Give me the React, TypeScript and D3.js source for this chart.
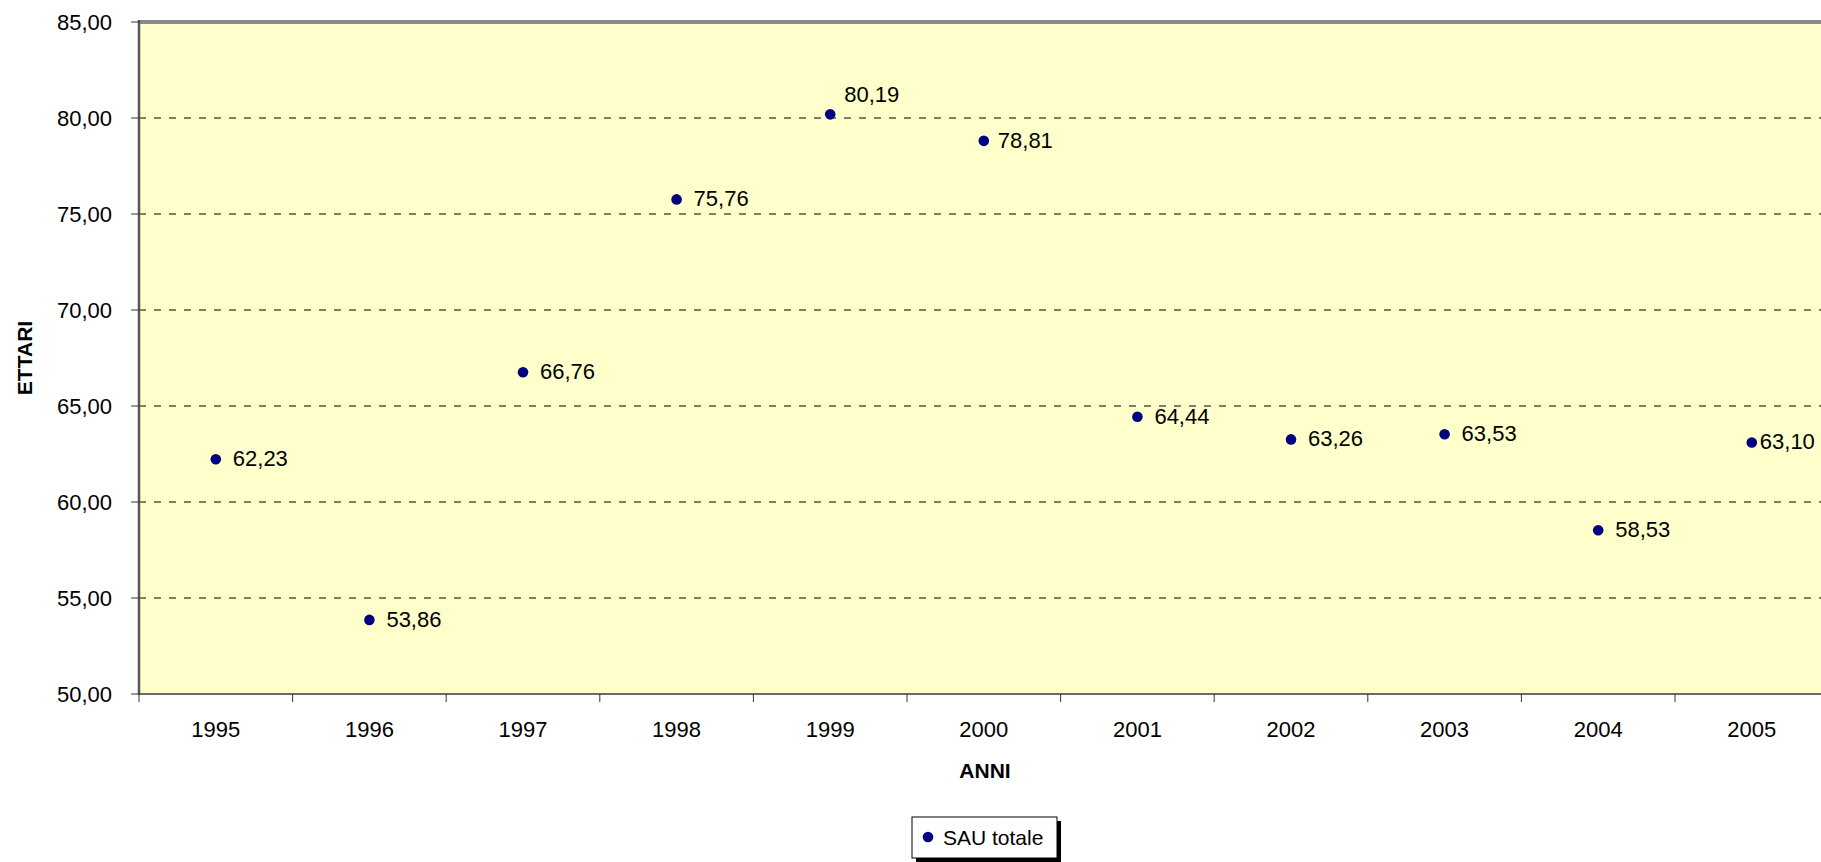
import React from "react";
import * as d3 from "d3";

const years = ["1995", "1996", "1997", "1998", "1999", "2000", "2001", "2002", "2003", "2004", "2005"];
const sauTotale = [62.23, 53.86, 66.76, 75.76, 80.19, 78.81, 64.44, 63.26, 63.53, 58.53, 63.1];
const yTicks = [50, 55, 60, 65, 70, 75, 80, 85];
const seriesName = "SAU totale";
const xTitle = "ANNI";
const yTitle = "ETTARI";

const W = 1821;
const H = 862;
const plotLeft = 139;
const plotTop = 22;
const plotBottom = 694;
const band = 153.6;
const plotRight = plotLeft + band * years.length;

const fmt = (v: number) => v.toFixed(2).replace(".", ",");

const labelAdjust: Record<string, { dx: number; dy: number }> = {
  "1999": { dx: 14, dy: -12 },
  "2000": { dx: 14, dy: 7 },
  "2005": { dx: 8, dy: 7 },
};

export default function App() {
  const x = d3.scaleBand<string>().domain(years).range([plotLeft, plotRight]).padding(0);
  const y = d3.scaleLinear().domain([50, 85]).range([plotBottom, plotTop]);
  const font = "'Liberation Sans', Arial, sans-serif";
  const boundaries = d3.range(years.length + 1).map((i) => plotLeft + i * x.bandwidth());

  return (
    <svg
      width={W}
      height={H}
      style={{ position: "absolute", left: 0, top: 0, display: "block", background: "#fff" }}
      fontFamily={font}
    >
      <rect x={plotLeft} y={plotTop} width={plotRight - plotLeft} height={plotBottom - plotTop} fill="#FFFFCC" />
      {yTicks
        .filter((t) => t !== 50 && t !== 85)
        .map((t) => (
          <line
            key={"g" + t}
            x1={plotLeft}
            x2={plotRight}
            y1={y(t)}
            y2={y(t)}
            stroke="#000"
            strokeWidth={1}
            strokeDasharray="7,8"
          />
        ))}
      <line x1={plotLeft} x2={plotRight} y1={plotTop} y2={plotTop} stroke="#8a8a8a" strokeWidth={4} />
      <line x1={plotLeft} x2={plotRight} y1={plotBottom} y2={plotBottom} stroke="#6b6b6b" strokeWidth={2} />
      <line x1={plotLeft} x2={plotLeft} y1={plotTop - 2} y2={plotBottom + 1} stroke="#555" strokeWidth={2.5} />
      {yTicks.map((t) => (
        <g key={"y" + t}>
          <line x1={plotLeft - 8} x2={plotLeft} y1={y(t)} y2={y(t)} stroke="#333" strokeWidth={1} />
          <text x={112} y={y(t) + 8} textAnchor="end" fontSize={22} fill="#000">
            {fmt(t)}
          </text>
        </g>
      ))}
      {boundaries.map((bx, i) => (
        <line key={"xt" + i} x1={bx} x2={bx} y1={plotBottom} y2={plotBottom + 8} stroke="#333" strokeWidth={1} />
      ))}
      {years.map((yr) => (
        <text
          key={"xl" + yr}
          x={(x(yr) as number) + x.bandwidth() / 2}
          y={737}
          textAnchor="middle"
          fontSize={22}
          fill="#000"
        >
          {yr}
        </text>
      ))}
      {sauTotale.map((v, i) => {
        const cx = (x(years[i]) as number) + x.bandwidth() / 2;
        const cy = y(v);
        const adj = labelAdjust[years[i]] || { dx: 17, dy: 7 };
        return (
          <g key={"p" + i}>
            <circle cx={cx} cy={cy} r={5.3} fill="#000080" />
            <text x={cx + adj.dx} y={cy + adj.dy} fontSize={22} fill="#000">
              {fmt(v)}
            </text>
          </g>
        );
      })}
      <text x={985} y={778} textAnchor="middle" fontSize={21} fontWeight="bold" fill="#000">
        {xTitle}
      </text>
      <text
        transform={`translate(32, ${(plotTop + plotBottom) / 2}) rotate(-90)`}
        textAnchor="middle"
        fontSize={21}
        fontWeight="bold"
        fill="#000"
      >
        {yTitle}
      </text>
      <rect x={916} y={821} width={145} height={41} fill="#000" />
      <rect x={912} y={817} width={145} height={41} fill="#fff" stroke="#000" strokeWidth={1} />
      <circle cx={928} cy={837} r={5.3} fill="#000080" />
      <text x={943} y={845} fontSize={21} fill="#000">
        {seriesName}
      </text>
    </svg>
  );
}
